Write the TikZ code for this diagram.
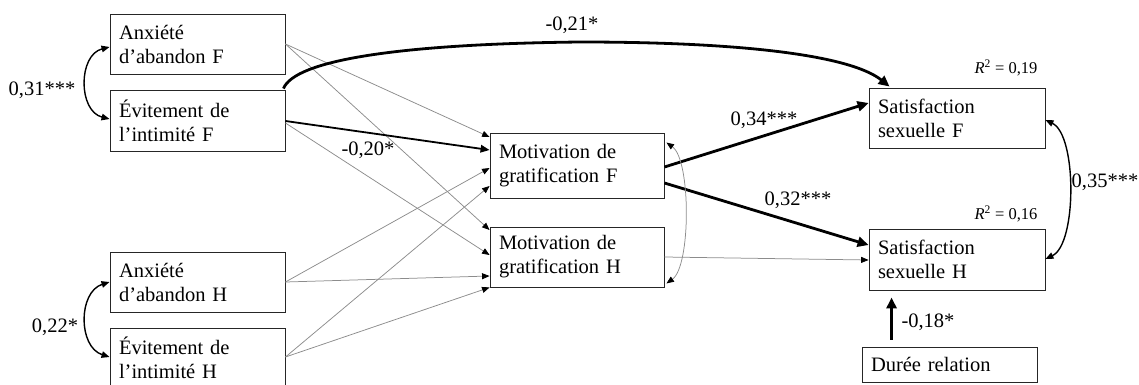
\documentclass[tikz,border=0pt]{standalone}
\usepackage{fontspec}
\setmainfont{Liberation Serif}
\usetikzlibrary{arrows.meta,calc}
\definecolor{lg}{HTML}{8C8C8C}
\begin{document}
\begin{tikzpicture}[x=1pt,y=-1pt,
  box/.style={draw=black!85, line width=0.9pt, rectangle, minimum width=175pt,
    text width=157pt, align=left, inner xsep=9pt, inner ysep=0pt,
    font=\fontsize{20.5}{24}\selectfont},
  lab/.style={inner sep=0pt, font=\fontsize{20.5}{24}\selectfont},
  rlab/.style={inner sep=0pt, font=\fontsize{16.5}{18}\selectfont},
  thinarr/.style={draw=lg, line width=0.75pt, -{Triangle[length=7.5pt,width=6pt,color=black]}},
  midarr/.style={draw=black, line width=1.8pt, -{Triangle[length=9pt,width=7.5pt]}},
  bigarr/.style={draw=black, line width=2.8pt, -{Triangle[length=11pt,width=10pt]}},
  cov/.style={draw=black, line width=1.4pt, {Triangle[length=8pt,width=6.5pt]}-{Triangle[length=8pt,width=6.5pt]}},
  graycov/.style={draw=lg, line width=0.75pt, {Triangle[length=7.5pt,width=6pt,color=black]}-{Triangle[length=7.5pt,width=6pt,color=black]}}
]
\useasboundingbox (0,0) rectangle (1139,385);

% boxes
\node[box, minimum height=60pt] (aF) at (197.5,44) {Anxiété\\d’abandon F};
\node[box, minimum height=61pt] (eF) at (197.5,120.5) {Évitement de\\l’intimité F};
\node[box, minimum height=60pt] (aH) at (197.5,282) {Anxiété\\d’abandon H};
\node[box, minimum height=60pt] (eH) at (197.5,358) {Évitement de\\l’intimité H};
\node[box, minimum height=65pt, minimum width=174pt, text width=156pt] (mF) at (577,165.5) {Motivation de\\gratification F};
\node[box, minimum height=60pt, minimum width=174pt, text width=156pt] (mH) at (577,257) {Motivation de\\gratification H};
\node[box, minimum height=60pt, minimum width=176pt, text width=158pt] (sF) at (957,118) {Satisfaction\\sexuelle F};
\node[box, minimum height=61pt, minimum width=176pt, text width=158pt] (sH) at (957,259.5) {Satisfaction\\sexuelle H};
\node[box, minimum height=35pt] (dur) at (949.5,364.5) {Durée relation};

% labels
\node[lab] (l21) at (572,25) {-0,21*};
\node[lab] (l20) at (368,150) {-0,20*};
\node[lab] (l34) at (764,120) {0,34***};
\node[lab] (l32) at (798,200) {0,32***};
\node[lab] (l18) at (928,322) {-0,18*};
\node[lab] (l35) at (1105,182) {0,35***};
\node[lab] (l31) at (42,90) {0,31***};
\node[lab] (l22) at (55,327) {0,22*};
\node[rlab] (r19) at (1006,68) {\textit{R}\textsuperscript{2} = 0,19};
\node[rlab] (r16) at (1006,214) {\textit{R}\textsuperscript{2} = 0,16};

% thin paths from attachment to motivation
\draw[thinarr] (aF.east) -- ($(mF.west)+(0,-28.5)$);
\draw[thinarr] (aF.east) -- ($(mH.west)+(0,-27)$);
\draw[thinarr] ($(eF.east)+(0,2.5)$) -- ($(mH.west)+(0,-2)$);
\draw[thinarr] (aH.east) -- ($(mF.west)+(0,2.5)$);
\draw[thinarr] (aH.east) -- ($(mH.west)+(0,19)$);
\draw[thinarr] ($(eH.east)+(0,-1)$) -- ($(mF.west)+(0,20.5)$);
\draw[thinarr] ($(eH.east)+(0,-1)$) -- (mH.south west);
\draw[midarr] ($(eF.east)+(0,0.5)$) -- ($(mF.west)+(0,-15.5)$);

% motivation to satisfaction
\draw[bigarr] ($(mF.east)+(0,1.5)$) -- ($(sF.west)+(0,-15)$);
\draw[bigarr] ($(mF.east)+(0,17.5)$) -- ($(sH.west)+(0,-14.5)$);
\draw[thinarr] (mH.east) -- ($(sH.west)+(0,0.5)$);
\draw[bigarr] ($(dur.north west)+(30,-7)$) -- ($(sH.south west)+(23,7)$);

% direct effect
\coordinate (peak) at (580,42);
\draw[bigarr] ($(eF.north east)+(-2,-1)$) .. controls (295,60) and (400,44) .. (peak)
  .. controls (740,42) and (850,55) .. ($(sF.north west)+(21,-1)$);

% covariances
\draw[cov] ($(aF.west)+(0,3)$) .. controls (78,55) and (78,111) .. ($(eF.west)+(0,-1.5)$);
\draw[cov] (aH.west) .. controls (78,292) and (78,347) .. ($(eH.west)+(0,-1)$);
\draw[cov] ($(sF.east)+(0,2)$) .. controls (1077,135) and (1077,244) .. ($(sH.east)+(0,-0.5)$);
\draw[graycov] ($(mF.north east)+(2,10)$) .. controls (691,160) and (691,266) .. ($(mH.south east)+(2,-4)$);
\end{tikzpicture}
\end{document}
